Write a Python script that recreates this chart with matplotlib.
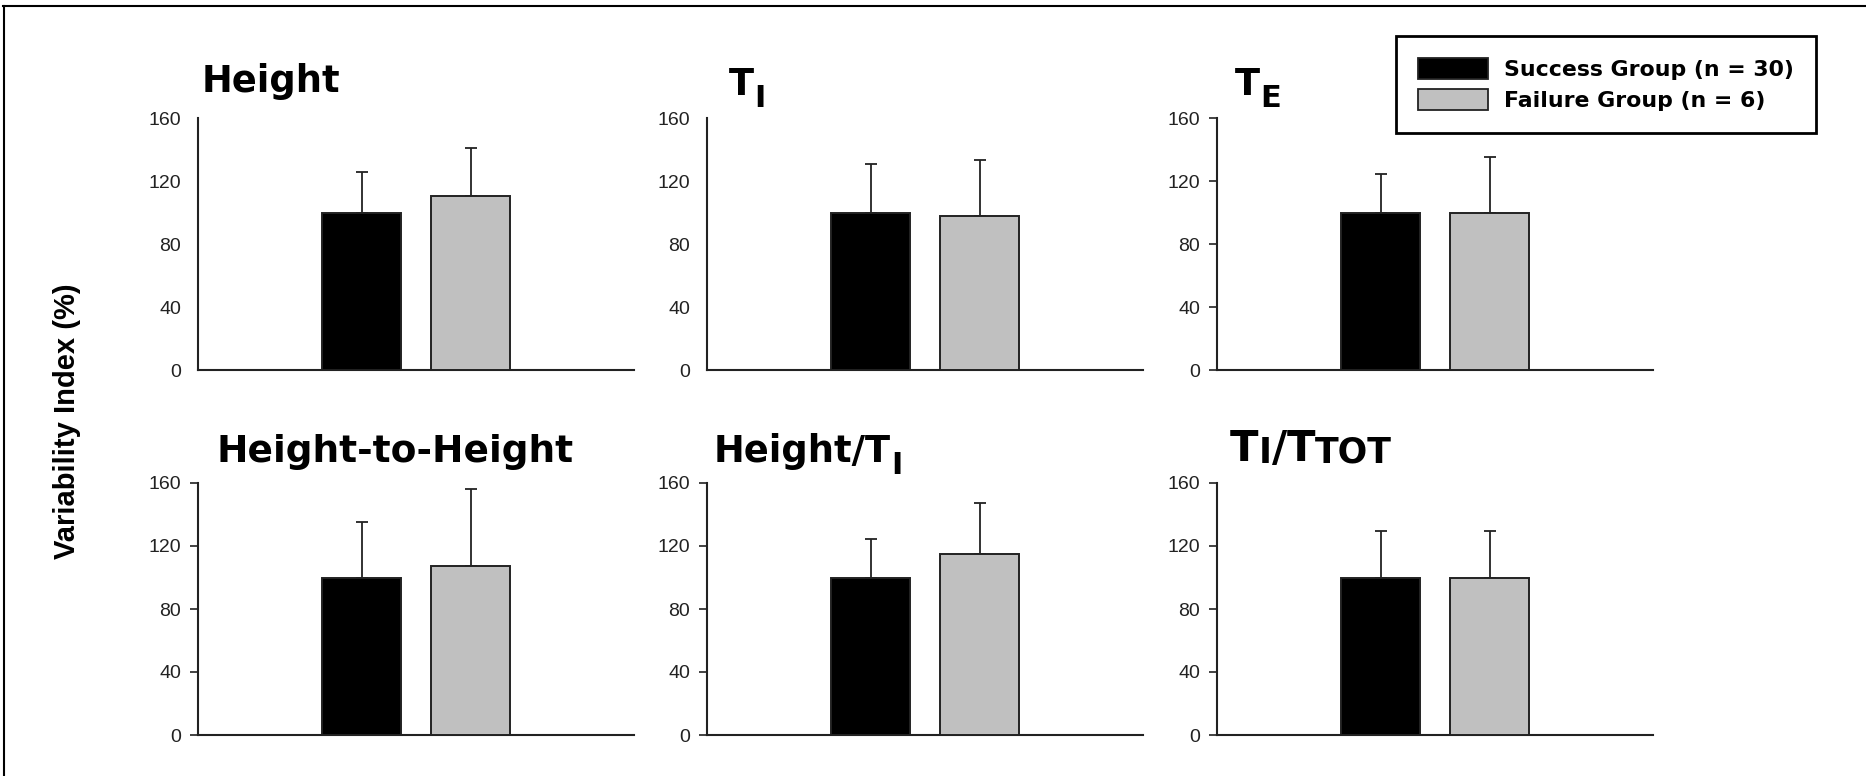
import matplotlib
matplotlib.use("Agg")
import matplotlib.pyplot as plt
from matplotlib.patches import Patch
from matplotlib.lines import Line2D

# values (variability index, %)
groups = ["Success Group (n = 30)", "Failure Group (n = 6)"]
success_mean = [100, 100, 100, 100, 100, 100]
success_sd = [26, 31, 24.5, 35.5, 24.5, 29.5]
failure_mean = [110.5, 97.5, 99.5, 107.5, 115, 100]
failure_sd = [30.5, 36, 35.5, 49, 32.5, 29.5]
yticks = [0, 40, 80, 120, 160]

# title pieces: (text, size, drop in px, family)
TF = "DejaVu Sans"
titles = [
    [("Height", 26.5, 0, TF)],
    [("T", 26.5, 0, TF), ("I", 22, 10, TF)],
    [("T", 26.5, 0, TF), ("E", 22, 10, TF)],
    [("Height-to-Height", 27, 0, TF)],
    [("Height/T", 26.5, 0, TF), ("I", 22, 10, TF)],
    [("T", 30, 0, TF), ("I", 25, 0, TF), ("/", 30, 0, TF), ("T", 30, 0, TF), ("TOT", 25, 0, TF)],
]
title_off = [(4, 26), (22, 23), (18, 23), (19, 21), (7, 21), (13, 22)]
has_ticks = [False, False, True, True, True, True]

W, H = 1866, 776
lefts = [198, 707, 1217]
tops = [118, 483]
aw, ah = 436, 252

black = "#000000"
grey = "#c0c0c0"
edge = "#222222"


def put_title(ax, parts, dx, dy):
    prev = None
    for text, size, drop, fam in parts:
        if prev is None:
            prev = ax.annotate(text, xy=(0, 1), xycoords="axes fraction",
                               xytext=(dx, dy), textcoords="offset pixels",
                               fontsize=size, fontweight="bold", family=fam,
                               ha="left", va="baseline")
        else:
            prev = ax.annotate(text, xy=(1, 0), xycoords=prev,
                               xytext=(0, -drop), textcoords="offset pixels",
                               fontsize=size, fontweight="bold", family=fam,
                               ha="left", va="bottom")


fig = plt.figure(figsize=(W / 100, H / 100), dpi=100)

for i in range(6):
    r, c = divmod(i, 3)
    ax = fig.add_axes([lefts[c] / W, 1 - (tops[r] + ah) / H, aw / W, ah / H])
    means = [success_mean[i], failure_mean[i]]
    sds = [success_sd[i], failure_sd[i]]
    xs = [1.5, 2.5]
    ax.bar(xs, means, width=0.72, color=[black, grey], edgecolor=edge,
           linewidth=1.4, zorder=3)
    ax.errorbar(xs, means, yerr=[[0, 0], sds], fmt="none", ecolor=edge,
                elinewidth=1.3, capsize=4.5, capthick=1.3, zorder=2)
    ax.set_xlim(0, 4)
    ax.set_ylim(0, 160)
    ax.set_yticks(yticks)
    ax.set_xticks([])
    for s in ["top", "right"]:
        ax.spines[s].set_visible(False)
    for s in ["left", "bottom"]:
        ax.spines[s].set_linewidth(1.5)
        ax.spines[s].set_color(edge)
    if has_ticks[i]:
        ax.tick_params(axis="y", length=6, width=1.2, color=edge, pad=6)
    else:
        ax.tick_params(axis="y", length=0, pad=12)
    for lab in ax.get_yticklabels():
        lab.set_family("Liberation Sans")
        lab.set_fontsize(14)
        lab.set_color("#222222")
    put_title(ax, titles[i], *title_off[i])

handles = [Patch(facecolor=black, edgecolor=edge, linewidth=1.3),
           Patch(facecolor=grey, edgecolor=edge, linewidth=1.3)]
leg = fig.legend(handles, groups, loc="upper left",
                 bbox_to_anchor=(1396 / W, 1 - 36 / H),
                 bbox_transform=fig.transFigure, borderaxespad=0,
                 prop={"family": "DejaVu Sans", "weight": "bold", "size": 15.8},
                 handlelength=3.2, handleheight=1.1, handletextpad=0.73,
                 labelspacing=0.42, borderpad=1.0, fancybox=False,
                 framealpha=1, edgecolor="black")
leg.get_frame().set_linewidth(2)

fig.text(67 / W, 1 - 421 / H, "Variability Index (%)", rotation=90,
         ha="center", va="center", fontsize=21, fontweight="bold",
         family="Liberation Sans")

# partial frame round the picture
fig.add_artist(Line2D([3 / W, 1], [1 - 6 / H, 1 - 6 / H],
                      transform=fig.transFigure, color="black", lw=1.5))
fig.add_artist(Line2D([4 / W, 4 / W], [0, 1 - 6 / H],
                      transform=fig.transFigure, color="black", lw=1.5))

fig.savefig("out.png", dpi=100)
